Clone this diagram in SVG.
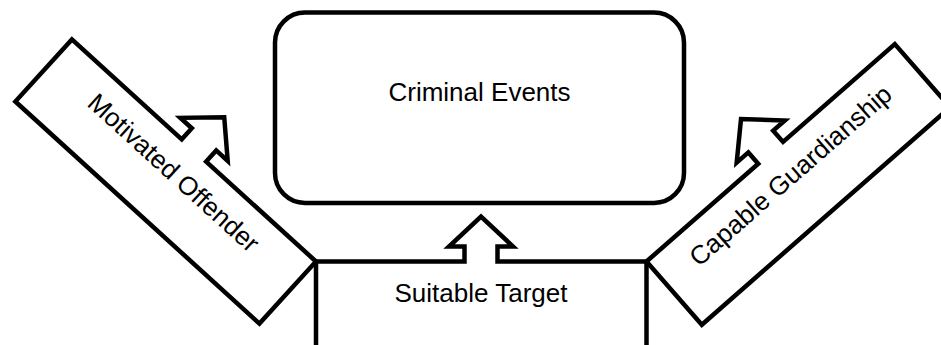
<svg xmlns="http://www.w3.org/2000/svg" width="941" height="345" viewBox="0 0 941 345">
  <style>
    .shape { fill: #ffffff; stroke: #000000; stroke-width: 4.5; stroke-linejoin: miter; }
    .label { font-family: "Liberation Sans", Arial, sans-serif; font-size: 26px; fill: #000000; text-anchor: middle; }
  </style>
  <defs>
    <path id="arrowBox" d="M0,0 H148.5 V-15 H133 L165,-45 L197,-15 H181.5 V0 H330 V84 H0 Z"/>
  </defs>
  <rect width="941" height="345" fill="#ffffff"/>
  <g id="connectors"></g>
  <g id="criminal-events">
    <rect class="shape" x="275" y="12.5" width="409" height="190.5" rx="30" ry="30"/>
    <text class="label" x="479.5" y="101">Criminal Events</text>
  </g>
  <g id="suitable-target">
    <line x1="318" y1="344.5" x2="644" y2="344.5" stroke="#dcdcdc" stroke-width="1"/>
    <path class="shape" d="M316,261.5 H464.5 V246.5 H449 L481,216.5 L513,246.5 H497.5 V261.5 H646.5 V360 H316 Z"/>
    <text class="label" x="481" y="302">Suitable Target</text>
  </g>
  <g id="motivated-offender" transform="translate(71.9,39.4) rotate(42.3)">
    <use href="#arrowBox" class="shape"/>
    <text class="label" x="165" y="39">Motivated Offender</text>
  </g>
  <g id="capable-guardianship" transform="translate(646.5,261.5) rotate(-41.2)">
    <use href="#arrowBox" class="shape"/>
    <text class="label" x="165" y="39">Capable Guardianship</text>
  </g>
</svg>
